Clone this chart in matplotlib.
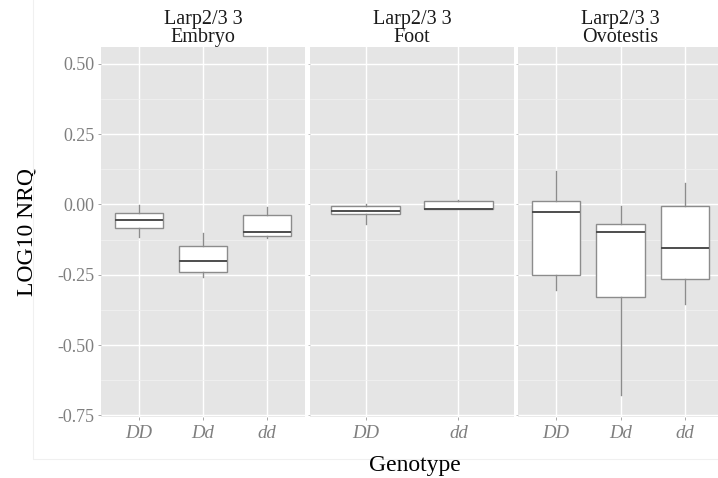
import matplotlib.pyplot as plt
import matplotlib.patches as mpatches

# panels and genotype groups
panels = ['Embryo', 'Foot', 'Ovotestis']
strip_prefix = 'Larp2/3 3'
genotypes = {
    'Embryo': ['DD', 'Dd', 'dd'],
    'Foot': ['DD', 'dd'],
    'Ovotestis': ['DD', 'Dd', 'dd'],
}

# box stats: whisker low, Q1, median, Q3, whisker high
whislo = {
    'Embryo': [-0.115, -0.258, -0.120],
    'Foot': [-0.071, -0.017],
    'Ovotestis': [-0.305, -0.678, -0.353],
}
q1 = {
    'Embryo': [-0.085, -0.240, -0.111],
    'Foot': [-0.034, -0.017],
    'Ovotestis': [-0.250, -0.328, -0.264],
}
med = {
    'Embryo': [-0.055, -0.200, -0.097],
    'Foot': [-0.023, -0.015],
    'Ovotestis': [-0.026, -0.099, -0.155],
}
q3 = {
    'Embryo': [-0.032, -0.146, -0.037],
    'Foot': [-0.006, 0.011],
    'Ovotestis': [0.013, -0.069, -0.007],
}
whishi = {
    'Embryo': [-0.002, -0.103, -0.008],
    'Foot': [0.000, 0.015],
    'Ovotestis': [0.118, -0.006, 0.076],
}

yticks = [0.5, 0.25, 0.0, -0.25, -0.5, -0.75]
ytick_labels = ['0.50', '0.25', '0.00', '-0.25', '-0.50', '-0.75']
yminor = [0.375, 0.125, -0.125, -0.375, -0.625]

plt.rcParams['font.family'] = ['Liberation Serif', 'DejaVu Serif']

W, H = 718, 478
fig = plt.figure(figsize=(W / 100, H / 100), dpi=100)

# faint outer frame of the original plot background
fig.add_artist(mpatches.Rectangle((33 / W, (H - 459) / H), 1, 1, fill=False,
                                  transform=fig.transFigure, ec='#f0f0f0', lw=0.8))

lefts = [100.7, 310, 517.5]
widths = [204.3, 204, 206]
top, bottom = 47.3, 417.3

for i, p in enumerate(panels):
    ax = fig.add_axes([lefts[i] / W, (H - bottom) / H, widths[i] / W, (bottom - top) / H])
    ax.set_facecolor('#e5e5e5')
    for s in ax.spines.values():
        s.set_visible(False)
    n = len(genotypes[p])
    pos = list(range(1, n + 1))
    stats = []
    for k in range(n):
        stats.append({'whislo': whislo[p][k], 'q1': q1[p][k], 'med': med[p][k],
                      'q3': q3[p][k], 'whishi': whishi[p][k], 'fliers': []})
    ax.bxp(stats, positions=pos, widths=0.75, patch_artist=True, showcaps=False,
           boxprops=dict(facecolor='white', edgecolor='#8c8c8c', lw=1.0),
           whiskerprops=dict(color='#8c8c8c', lw=1.0),
           medianprops=dict(color='#4d4d4d', lw=1.4))
    ax.set_xlim(0.4, n + 0.6)
    ax.set_ylim(-0.757, 0.559)
    ax.set_yticks(yticks)
    ax.set_yticks(yminor, minor=True)
    ax.set_xticks(pos)
    ax.grid(True, which='major', color='white', lw=1.0)
    ax.grid(True, which='minor', axis='y', color='#f2f2f2', lw=0.5)
    ax.set_axisbelow(True)
    ax.set_xticklabels(genotypes[p], style='italic', fontsize=13.5, color='#7f7f7f')
    ax.tick_params(axis='x', length=2.5, width=0.6, color='#999999', pad=3)
    ax.tick_params(axis='y', which='minor', length=0)
    if i == 0:
        ax.set_yticklabels(ytick_labels, fontsize=13, color='#7f7f7f')
        ax.tick_params(axis='y', length=2.5, width=0.6, color='#999999', pad=2)
        ax.set_ylabel('LOG10 NRQ', fontsize=17, labelpad=14)
    else:
        ax.set_yticklabels([])
        ax.tick_params(axis='y', length=1.5, width=0.6, color='#bbbbbb', pad=0)
    ax.set_title(strip_prefix + '\n' + p, fontsize=14.5, color='#1a1a1a',
                 linespacing=0.95, pad=3)

fig.text(415 / W, (H - 465) / H, 'Genotype', ha='center', va='center', fontsize=17)

fig.savefig('out.png', dpi=100)
